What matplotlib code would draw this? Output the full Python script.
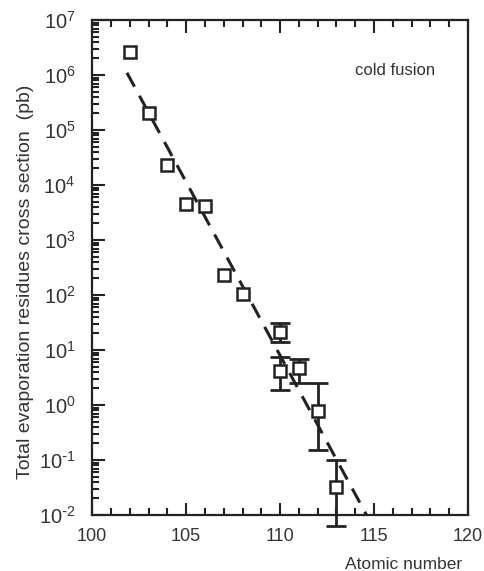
import numpy as np
import matplotlib
matplotlib.use('Agg')
import matplotlib.pyplot as plt
from matplotlib.ticker import MultipleLocator, LogLocator, NullFormatter, FuncFormatter

plt.rcParams['font.family'] = ['Liberation Sans', 'DejaVu Sans']
plt.rcParams['mathtext.default'] = 'regular'
plt.rcParams['axes.unicode_minus'] = False

# 数据
z = [102, 103, 104, 105, 106, 107, 108, 110, 110, 111, 112, 113]
sigma = [2.6e6, 2.0e5, 2.3e4, 4.5e3, 4.2e3, 230, 105, 21, 4.1, 4.7, 0.78, 0.032]
err_hi = [None, None, None, None, None, None, None, 31, 7.4, 7.0, 2.5, 0.10]
err_lo = [None, None, None, None, None, None, None, 14, 1.9, 2.5, 0.15, 0.0063]

# 拟合虚线的两个端点
line_z = [101.85, 114.6]
line_sigma = [1.1e6, 1.0e-2]

fig = plt.figure(figsize=(4.85, 5.71), dpi=100)
ax = fig.add_axes([0.19, 0.098, 0.775, 0.867])

ax.plot(line_z, line_sigma, color='#222222', lw=2.2, ls=(0, (5.2, 3.4)), zorder=2)

# 误差棒
for zi, s, hi, lo in zip(z, sigma, err_hi, err_lo):
    if hi is None:
        continue
    ax.errorbar([zi], [s], yerr=[[s - lo], [hi - s]], fmt='none', ecolor='#222222',
                elinewidth=2.0, capsize=7, capthick=2.0, clip_on=False, zorder=3)

ax.plot(z, sigma, ls='none', marker='s', ms=9, mfc='white', mec='#222222', mew=1.8,
        zorder=4, clip_on=False)

ax.set_yscale('log')
ax.set_xlim(100, 120)
ax.set_ylim(1e-2, 1e7)


def dec_fmt(v, pos):
    e = int(round(np.log10(v)))
    if e < 0:
        return r'$10^{\text{-}%d}$' % (-e)
    return r'$10^{%d}$' % e


ax.xaxis.set_major_locator(MultipleLocator(5))
ax.xaxis.set_minor_locator(MultipleLocator(1))
ax.yaxis.set_major_locator(LogLocator(base=10, numticks=20))
ax.yaxis.set_minor_locator(LogLocator(base=10, subs=np.arange(2, 10), numticks=20))
ax.yaxis.set_major_formatter(FuncFormatter(dec_fmt))
ax.yaxis.set_minor_formatter(NullFormatter())

ax.tick_params(which='both', direction='in', color='#222222', width=1.5,
               labelcolor='#333333', top=True, right=False)
ax.tick_params(which='major', length=9)
ax.tick_params(which='minor', length=5)
ax.tick_params(axis='x', labelsize=13, pad=9)
ax.tick_params(axis='y', labelsize=14.5, pad=12)
for sp in ax.spines.values():
    sp.set_linewidth(1.6)
    sp.set_color('#222222')

ax.set_ylabel('Total evaporation residues cross section  (pb)', fontsize=14, color='#333333')
ax.yaxis.set_label_coords(-0.155, 0.472)
ax.text(0.985, -0.1, 'Atomic number', transform=ax.transAxes, ha='right', va='center',
        fontsize=12.5, color='#333333')
ax.text(0.70, 0.898, 'cold fusion', transform=ax.transAxes, ha='left', va='center',
        fontsize=12, color='#333333')

plt.savefig('out.png', dpi=100)
